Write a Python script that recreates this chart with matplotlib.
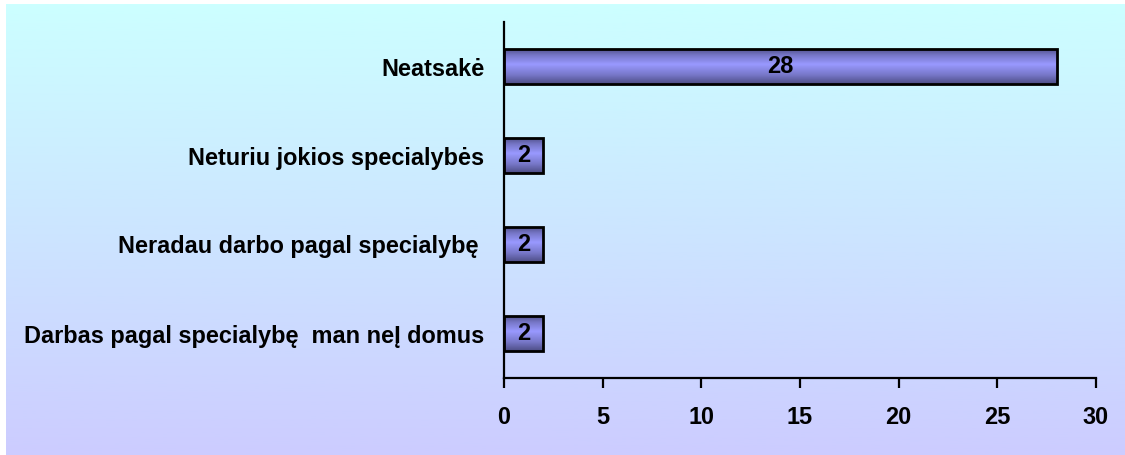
import numpy as np
import matplotlib
matplotlib.use("Agg")
import matplotlib.pyplot as plt
from matplotlib.colors import LinearSegmentedColormap

plt.rcParams['font.family'] = ['Liberation Sans', 'DejaVu Sans']
plt.rcParams['font.weight'] = 'bold'

categories = [
    "Darbas pagal specialybę  man neĮ domus",
    "Neradau darbo pagal specialybę ",
    "Neturiu jokios specialybės",
    "Neatsakė",
]
values = [2, 2, 2, 28]
x_ticks = [0, 5, 10, 15, 20, 25, 30]

W, H = 1125, 455
FS = 16.9
fig = plt.figure(figsize=(W / 100, H / 100), dpi=100)
fig.patch.set_facecolor("white")

# background panel with a vertical cyan-to-lavender gradient
bg = fig.add_axes([6 / W, 0, 1 - 6 / W, 1 - 4 / H])
bg.set_axis_off()
bg_cmap = LinearSegmentedColormap.from_list("bg", ["#CCCCFF", "#CCFFFF"])
bg.imshow(np.linspace(0, 1, 256).reshape(-1, 1), cmap=bg_cmap, aspect="auto",
          origin="lower", extent=[0, 1, 0, 1])
bg.set_xlim(0, 1)
bg.set_ylim(0, 1)

ax = fig.add_axes([504 / W, 1 - 378 / H, (1096 - 504) / W, (378 - 22) / H])
ax.patch.set_alpha(0)

ypos = np.arange(len(categories))
bars = ax.barh(ypos, values, height=0.4, color="none", edgecolor="black",
               linewidth=2.0, zorder=3)

# shaded fill inside each bar: dark edges, light middle
bar_cmap = LinearSegmentedColormap.from_list(
    "bar", [(0.0, "#4D4D85"), (0.25, "#7777C8"), (0.55, "#9999FF"),
            (0.8, "#7777C8"), (1.0, "#4D4D85")])
grad = np.linspace(0, 1, 128).reshape(-1, 1)
for b, v in zip(bars, values):
    x0, y0, w, h = b.get_x(), b.get_y(), b.get_width(), b.get_height()
    im = ax.imshow(grad, cmap=bar_cmap, aspect="auto", origin="lower",
                   extent=[x0, x0 + w, y0, y0 + h], zorder=2)
    im.set_clip_path(b)
    ax.text(x0 + w / 2, y0 + h / 2, f"{v}",
            ha="center", va="center", fontsize=FS, fontweight="bold", zorder=4)

ax.set_xlim(0, 30)
ax.set_ylim(-0.5, len(categories) - 0.5)
ax.set_xticks(x_ticks)
ax.set_xticklabels([str(t) for t in x_ticks])
ax.set_yticks(ypos)
ax.set_yticklabels(categories)

for s in ["top", "right"]:
    ax.spines[s].set_visible(False)
for s in ["left", "bottom"]:
    ax.spines[s].set_linewidth(1.6)
    ax.spines[s].set_color("black")

ax.tick_params(axis="x", direction="out", length=7, width=1.6, pad=13,
               labelsize=FS)
ax.tick_params(axis="y", length=0, pad=14, labelsize=FS)
for lbl in ax.get_xticklabels() + ax.get_yticklabels():
    lbl.set_fontweight("bold")

fig.savefig("out.png", dpi=100)
